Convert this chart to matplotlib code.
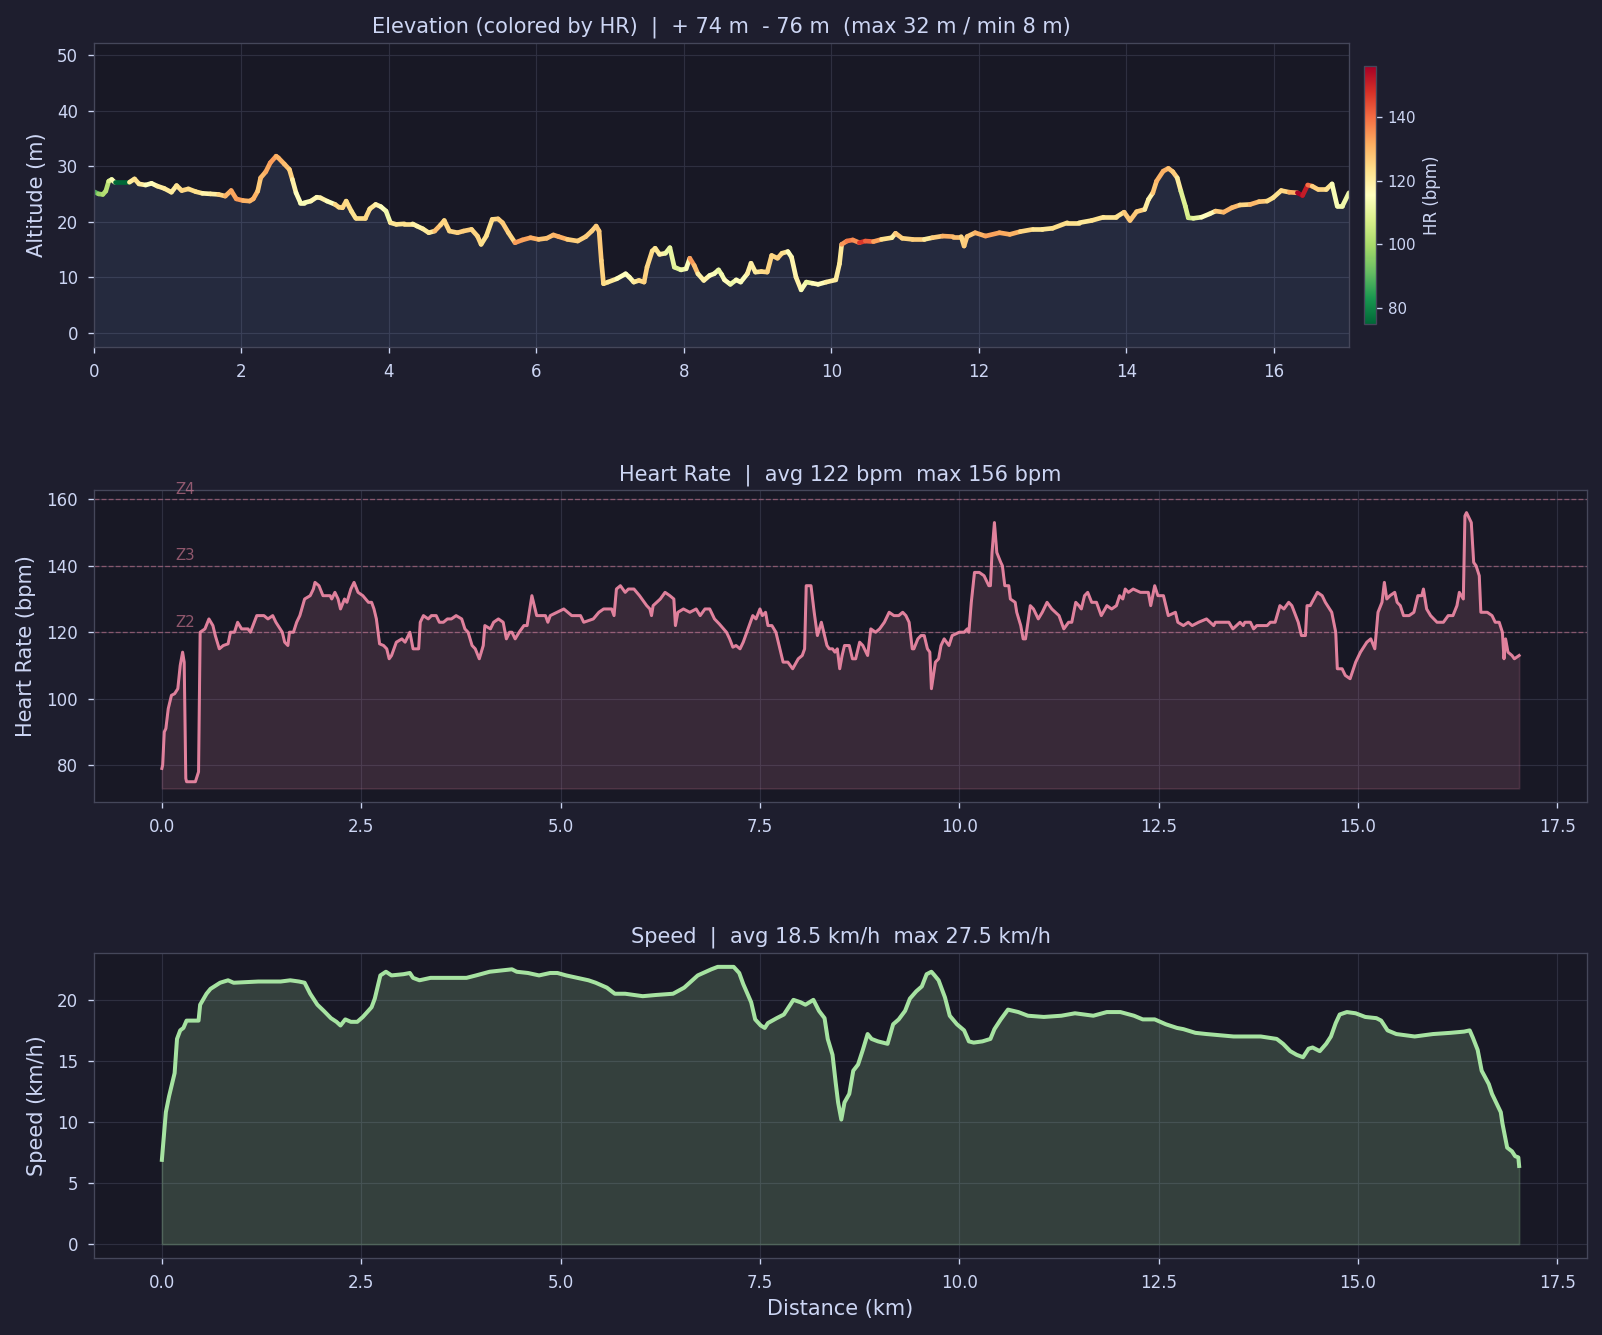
import numpy as np
import matplotlib
matplotlib.use("Agg")
import matplotlib.pyplot as plt
from matplotlib.collections import LineCollection

BG = '#1e1e2e'
PANEL = '#181825'
TXT = '#cdd6f4'
GRID = '#313244'
EDGE = '#45475a'
PINK = '#f38ba8'
GREEN = '#a6e3a1'
BLUE = '#89b4fa'

# elevation profile (km, m)
elev_km = [0.00, 0.06, 0.12, 0.16, 0.20, 0.24, 0.28, 0.48, 0.55, 0.61, 0.70, 0.78, 0.86, 0.95,
           1.05, 1.12, 1.19, 1.28, 1.38, 1.47, 1.58, 1.69, 1.78, 1.86, 1.93, 2.02, 2.11, 2.16,
           2.22, 2.26, 2.33, 2.39, 2.47, 2.50, 2.58, 2.65, 2.69, 2.74, 2.80, 2.85, 2.94, 3.02,
           3.07, 3.16, 3.27, 3.32, 3.37, 3.42, 3.49, 3.55, 3.68, 3.74, 3.82, 3.89, 3.96, 4.02,
           4.10, 4.21, 4.32, 4.38, 4.46, 4.54, 4.62, 4.70, 4.75, 4.82, 4.93, 5.01, 5.12, 5.20,
           5.25, 5.32, 5.40, 5.48, 5.54, 5.62, 5.71, 5.81, 5.92, 6.03, 6.14, 6.23, 6.30, 6.42,
           6.56, 6.67, 6.75, 6.81, 6.85, 6.88, 6.91, 6.97, 7.09, 7.21, 7.26, 7.32, 7.39, 7.46,
           7.50, 7.57, 7.61, 7.67, 7.75, 7.81, 7.87, 7.96, 8.03, 8.08, 8.14, 8.19, 8.27, 8.35,
           8.41, 8.47, 8.51, 8.55, 8.63, 8.71, 8.77, 8.86, 8.91, 8.97, 9.05, 9.13, 9.19, 9.27,
           9.33, 9.41, 9.46, 9.52, 9.59, 9.66, 9.74, 9.82, 9.93, 10.06, 10.11, 10.14, 10.21,
           10.29, 10.38, 10.46, 10.57, 10.68, 10.82, 10.87, 10.96, 11.10, 11.26, 11.37, 11.51,
           11.65, 11.76, 11.80, 11.84, 11.95, 12.09, 12.28, 12.42, 12.56, 12.73, 12.86, 13.00,
           13.20, 13.36, 13.53, 13.69, 13.86, 13.97, 14.05, 14.14, 14.25, 14.30, 14.36, 14.41,
           14.50, 14.57, 14.63, 14.69, 14.74, 14.80, 14.84, 14.91, 15.02, 15.13, 15.21, 15.32,
           15.43, 15.54, 15.68, 15.80, 15.91, 15.99, 16.10, 16.21, 16.32, 16.39, 16.46, 16.52,
           16.60, 16.71, 16.79, 16.86, 16.93, 17.02]
elev_m = [25.4, 25.0, 24.9, 25.5, 27.3, 27.6, 27.1, 27.1, 27.7, 26.8, 26.6, 26.9, 26.4, 26.0,
          25.3, 26.5, 25.6, 25.9, 25.4, 25.1, 25.0, 24.9, 24.6, 25.6, 24.1, 23.8, 23.7, 24.1,
          25.5, 27.9, 29.0, 30.6, 31.8, 31.5, 30.4, 29.4, 27.6, 25.2, 23.4, 23.4, 23.7, 24.4,
          24.3, 23.7, 23.1, 22.6, 22.5, 23.7, 21.9, 20.6, 20.6, 22.3, 23.1, 22.7, 21.9, 19.8,
          19.5, 19.6, 19.6, 19.2, 18.7, 18.0, 18.3, 19.4, 20.2, 18.3, 18.0, 18.3, 18.6, 17.4,
          15.9, 17.4, 20.4, 20.5, 19.8, 18.0, 16.2, 16.7, 17.1, 16.8, 17.0, 17.6, 17.3, 16.8,
          16.5, 17.3, 18.3, 19.2, 18.3, 13.0, 8.8, 9.1, 9.7, 10.6, 10.0, 9.1, 9.4, 9.1,
          11.8, 14.7, 15.2, 14.1, 14.3, 15.3, 11.8, 11.3, 11.5, 13.4, 12.1, 10.6, 9.4, 10.3,
          10.6, 11.3, 10.5, 9.5, 8.7, 9.5, 9.1, 10.6, 12.5, 10.9, 11.0, 10.9, 13.9, 13.4,
          14.3, 14.6, 13.6, 10.0, 7.7, 9.1, 8.9, 8.7, 9.1, 9.5, 12.4, 15.9, 16.5,
          16.7, 16.2, 16.5, 16.4, 16.8, 17.1, 17.9, 17.0, 16.8, 16.8, 17.1, 17.4,
          17.3, 17.3, 15.6, 17.3, 18.0, 17.4, 18.0, 17.7, 18.2, 18.6, 18.6, 18.8,
          19.8, 19.8, 20.2, 20.8, 20.8, 21.7, 20.2, 21.8, 22.2, 24.0, 25.2, 27.3,
          29.1, 29.6, 29.0, 27.9, 25.5, 22.8, 20.7, 20.6, 20.8, 21.4, 21.9, 21.7,
          22.5, 23.0, 23.1, 23.6, 23.7, 24.3, 25.6, 25.3, 25.2, 24.7, 26.6, 26.4,
          25.8, 25.8, 26.8, 22.8, 22.8, 25.2]

# heart rate (km, bpm)
hr_km = [0.00, 0.01, 0.03, 0.05, 0.08, 0.12, 0.16, 0.20, 0.23, 0.26, 0.28, 0.30, 0.31, 0.42,
         0.46, 0.48, 0.54, 0.59, 0.64, 0.67, 0.72, 0.77, 0.83, 0.86, 0.91, 0.95, 1.00, 1.08,
         1.11, 1.19, 1.28, 1.33, 1.39, 1.43, 1.51, 1.54, 1.58, 1.60, 1.65, 1.69, 1.73, 1.79,
         1.86, 1.90, 1.92, 1.97, 2.02, 2.11, 2.13, 2.17, 2.21, 2.24, 2.29, 2.32, 2.37, 2.41,
         2.46, 2.52, 2.59, 2.63, 2.66, 2.69, 2.73, 2.78, 2.82, 2.85, 2.88, 2.94, 3.01, 3.05,
         3.11, 3.15, 3.22, 3.24, 3.28, 3.34, 3.38, 3.44, 3.48, 3.53, 3.58, 3.63, 3.69, 3.76,
         3.80, 3.84, 3.89, 3.93, 3.98, 4.03, 4.05, 4.12, 4.16, 4.22, 4.28, 4.32, 4.36, 4.39,
         4.43, 4.48, 4.54, 4.58, 4.64, 4.70, 4.74, 4.81, 4.84, 4.87, 5.04, 5.14, 5.25, 5.29,
         5.41, 5.48, 5.54, 5.64, 5.67, 5.70, 5.75, 5.81, 5.85, 5.92, 5.99, 6.08, 6.12, 6.14,
         6.16, 6.25, 6.31, 6.37, 6.42, 6.44, 6.47, 6.54, 6.62, 6.70, 6.75, 6.81, 6.87, 6.93,
         6.99, 7.08, 7.12, 7.16, 7.20, 7.25, 7.29, 7.35, 7.41, 7.45, 7.50, 7.53, 7.57, 7.60,
         7.65, 7.70, 7.74, 7.79, 7.85, 7.91, 7.98, 8.03, 8.06, 8.08, 8.14, 8.18, 8.22, 8.27,
         8.30, 8.34, 8.37, 8.41, 8.44, 8.47, 8.50, 8.53, 8.56, 8.62, 8.66, 8.70, 8.75, 8.79,
         8.85, 8.89, 8.95, 9.00, 9.06, 9.12, 9.18, 9.24, 9.29, 9.33, 9.37, 9.41, 9.43, 9.48,
         9.52, 9.56, 9.60, 9.63, 9.65, 9.70, 9.74, 9.77, 9.81, 9.87, 9.91, 10.00, 10.06,
         10.10, 10.12, 10.15, 10.19, 10.25, 10.31, 10.37, 10.39, 10.41, 10.44, 10.47, 10.52,
         10.54, 10.57, 10.62, 10.64, 10.70, 10.72, 10.77, 10.80, 10.83, 10.89, 10.93, 10.99,
         11.04, 11.10, 11.16, 11.25, 11.31, 11.37, 11.41, 11.46, 11.50, 11.53, 11.57, 11.61,
         11.66, 11.72, 11.78, 11.85, 11.91, 11.97, 12.01, 12.05, 12.08, 12.12, 12.18, 12.27,
         12.37, 12.40, 12.45, 12.49, 12.56, 12.62, 12.71, 12.74, 12.81, 12.87, 12.92, 13.00,
         13.10, 13.19, 13.21, 13.38, 13.43, 13.52, 13.56, 13.58, 13.65, 13.69, 13.73, 13.86,
         13.90, 13.96, 14.02, 14.07, 14.13, 14.17, 14.25, 14.29, 14.34, 14.36, 14.40, 14.49,
         14.55, 14.59, 14.67, 14.72, 14.74, 14.80, 14.84, 14.90, 14.97, 15.03, 15.11, 15.16,
         15.21, 15.25, 15.30, 15.33, 15.36, 15.40, 15.46, 15.49, 15.53, 15.57, 15.64, 15.70,
         15.75, 15.80, 15.82, 15.86, 15.91, 15.99, 16.07, 16.13, 16.19, 16.24, 16.27, 16.32,
         16.34, 16.36, 16.42, 16.45, 16.48, 16.52, 16.54, 16.62, 16.68, 16.72, 16.77, 16.81,
         16.83, 16.85, 16.88, 16.93, 16.96, 17.02]
hr_bpm = [79, 80, 90, 91, 97, 101, 101.5, 103, 110, 114, 111, 76, 75, 75,
          78, 120, 121, 124, 122, 119, 115, 116, 116.5, 120, 120, 123, 121, 121,
          120, 125, 125, 124, 125, 123, 120, 117, 116, 120, 120, 123, 125, 130,
          131, 133, 135, 134, 131, 131, 130, 132, 130, 127, 130, 129, 133, 135,
          132, 131, 129, 129, 127, 124, 116.5, 116, 115, 112, 113, 117, 118, 117,
          120, 115, 115, 123, 125, 124, 125, 125, 123, 123, 124, 124, 125, 124,
          121, 120, 116, 115, 112, 116, 122, 121, 123, 124, 123, 118, 120, 120,
          118, 120, 122, 122, 131, 125, 125, 125, 123, 125, 127, 125, 125, 123,
          124, 126, 127, 127, 125, 133, 134, 132, 133, 133, 131, 128, 127, 125,
          128, 130, 132, 131, 130, 122, 126, 127, 126, 127, 125, 127, 127, 124,
          122.5, 120, 118, 115.5, 116, 115, 117, 121, 125, 124, 127, 125, 126, 122,
          122, 120, 116, 111, 111, 109, 112, 113, 115, 134, 134, 126, 119, 123,
          120, 116, 115, 115, 114, 115, 109, 113, 116, 116, 112, 112, 117, 116,
          113, 121, 120, 121, 123, 126, 125, 125, 126, 125, 123, 115, 115, 118,
          119, 119, 115, 114, 103, 111, 112, 116, 118, 116, 119, 120, 120,
          121, 120, 129, 138, 138, 137, 134, 134, 144, 153, 144, 141,
          140, 134, 134, 130, 129, 126, 122, 118, 118, 128, 127, 124,
          126, 129, 127, 125, 121, 123, 123, 129, 128, 127, 131, 132,
          129, 129, 125, 128, 127, 128, 131, 130, 133, 132, 133, 132,
          132, 128, 134, 131, 131, 125, 126, 123, 122, 123, 122, 123,
          124, 122, 123, 123, 121, 123, 122, 123, 123, 121, 122, 122,
          123, 123, 128, 127, 129, 128, 123, 119, 119, 128, 128, 132,
          131, 129, 126, 120, 109, 109, 107, 106, 111, 114, 117, 118,
          115, 126, 129, 135, 130, 131, 132, 129, 128, 125, 125, 126,
          131, 131, 133, 127, 125, 123, 123, 125, 125, 128, 132, 130,
          155, 156, 153, 141, 140, 137, 126, 126, 125, 123, 123, 120,
          112, 118, 114, 113, 112, 113]

# speed (km, km/h)
sp_km = [0.00, 0.01, 0.05, 0.09, 0.16, 0.19, 0.23, 0.27, 0.31, 0.46, 0.48, 0.56, 0.61, 0.73,
         0.83, 0.90, 1.21, 1.49, 1.61, 1.72, 1.79, 1.86, 1.95, 2.03, 2.12, 2.19, 2.24, 2.30,
         2.37, 2.45, 2.52, 2.63, 2.67, 2.74, 2.81, 2.88, 3.03, 3.11, 3.15, 3.23, 3.37, 3.82,
         3.94, 4.11, 4.39, 4.45, 4.59, 4.73, 4.87, 4.96, 5.07, 5.21, 5.35, 5.44, 5.58, 5.68,
         5.81, 6.03, 6.20, 6.41, 6.55, 6.72, 6.89, 6.97, 7.17, 7.24, 7.29, 7.39, 7.44, 7.51,
         7.56, 7.60, 7.71, 7.80, 7.86, 7.92, 8.01, 8.07, 8.17, 8.24, 8.31, 8.35, 8.41, 8.45,
         8.48, 8.52, 8.56, 8.62, 8.67, 8.73, 8.79, 8.85, 8.90, 8.98, 9.10, 9.17, 9.24, 9.32,
         9.38, 9.46, 9.53, 9.59, 9.65, 9.69, 9.74, 9.82, 9.88, 9.97, 10.06, 10.12, 10.18,
         10.29, 10.39, 10.44, 10.52, 10.61, 10.74, 10.86, 11.06, 11.28, 11.45, 11.68, 11.85,
         12.02, 12.19, 12.30, 12.45, 12.59, 12.73, 12.81, 12.96, 13.10, 13.27, 13.44, 13.61,
         13.78, 13.98, 14.06, 14.15, 14.23, 14.31, 14.38, 14.43, 14.52, 14.60, 14.66, 14.72,
         14.77, 14.86, 14.97, 15.09, 15.23, 15.29, 15.37, 15.48, 15.71, 15.94, 16.16, 16.33,
         16.40, 16.44, 16.50, 16.55, 16.64, 16.68, 16.79, 16.81, 16.87, 16.93, 16.97, 17.01,
         17.02]
sp_kmh = [6.9, 7.7, 10.8, 12.1, 14.0, 16.8, 17.5, 17.7, 18.3, 18.3, 19.6, 20.5, 20.9, 21.4,
          21.6, 21.4, 21.5, 21.5, 21.6, 21.5, 21.4, 20.5, 19.6, 19.1, 18.5, 18.2, 17.9, 18.4,
          18.2, 18.2, 18.6, 19.4, 20.1, 22.0, 22.3, 22.0, 22.1, 22.2, 21.8, 21.6, 21.8, 21.8,
          22.0, 22.3, 22.5, 22.3, 22.2, 22.0, 22.2, 22.2, 22.0, 21.8, 21.6, 21.4, 21.0, 20.5,
          20.5, 20.3, 20.4, 20.5, 21.0, 22.0, 22.5, 22.7, 22.7, 22.2, 21.3, 19.8, 18.4, 17.9,
          17.7, 18.1, 18.5, 18.8, 19.4, 20.0, 19.8, 19.6, 20.0, 19.1, 18.5, 16.8, 15.5, 13.2,
          11.6, 10.2, 11.6, 12.3, 14.2, 14.7, 15.9, 17.2, 16.8, 16.6, 16.4, 18.0, 18.4, 19.1,
          20.1, 20.7, 21.1, 22.1, 22.3, 22.0, 21.6, 20.2, 18.7, 18.0, 17.5, 16.6, 16.5,
          16.6, 16.8, 17.6, 18.4, 19.2, 19.0, 18.7, 18.6, 18.7, 18.9, 18.7, 19.0,
          19.0, 18.7, 18.4, 18.4, 18.0, 17.7, 17.6, 17.3, 17.2, 17.1, 17.0, 17.0,
          17.0, 16.8, 16.4, 15.8, 15.5, 15.3, 16.0, 16.1, 15.8, 16.4, 17.0, 18.1,
          18.8, 19.0, 18.9, 18.6, 18.5, 18.3, 17.5, 17.2, 17.0, 17.2, 17.3, 17.4,
          17.5, 16.9, 15.9, 14.2, 13.1, 12.3, 10.8, 9.9, 7.9, 7.6, 7.2, 7.1,
          6.4]

zones = [120, 140, 160]
zone_labels = ['Z2', 'Z3', 'Z4']
cbar_ticks = [80, 100, 120, 140]

elev_km = np.array(elev_km)
elev_m = np.array(elev_m)
hr_km = np.array(hr_km)
hr_bpm = np.array(hr_bpm)

W, H = 1602, 1335
fig = plt.figure(figsize=(W / 120, H / 120), dpi=120, facecolor=BG)


def box(l, t, r, b):
    return [l / W, 1 - b / H, (r - l) / W, (b - t) / H]


ax1 = fig.add_axes(box(94, 43, 1349, 347))
cax = fig.add_axes(box(1364, 66, 1376, 324))
ax2 = fig.add_axes(box(94, 490, 1587, 802))
ax3 = fig.add_axes(box(94, 953, 1587, 1258))

for ax in (ax1, ax2, ax3):
    ax.set_facecolor(PANEL)
    ax.grid(True, color=GRID, lw=0.7, alpha=0.9)
    ax.set_axisbelow(True)
    ax.tick_params(colors=TXT, labelsize=10, pad=6)
    for s in ax.spines.values():
        s.set_color(EDGE)
        s.set_linewidth(0.8)

# --- elevation coloured by HR
ylo = -2.6
ax1.fill_between(elev_km, elev_m, ylo, color=BLUE, alpha=0.12, lw=0)
pts = np.column_stack([elev_km, elev_m]).reshape(-1, 1, 2)
segs = np.concatenate([pts[:-1], pts[1:]], axis=1)
mid = (elev_km[:-1] + elev_km[1:]) / 2
norm = plt.Normalize(hr_bpm.min(), hr_bpm.max())
lc = LineCollection(segs, cmap='RdYlGn_r', norm=norm, linewidth=2.8, capstyle='round')
lc.set_array(np.interp(mid, hr_km, hr_bpm))
ax1.add_collection(lc)
ax1.set_xlim(0, elev_km.max())
ax1.set_ylim(ylo, 52.2)
ax1.set_ylabel('Altitude (m)', color=TXT, fontsize=12.5, labelpad=6)
ax1.set_title('Elevation (colored by HR)  |  + 74 m  - 76 m  (max 32 m / min 8 m)',
              color=TXT, fontsize=12.5)

cb = fig.colorbar(lc, cax=cax, ticks=cbar_ticks)
cb.set_label('HR (bpm)', color=TXT, fontsize=10)
cb.ax.tick_params(colors=TXT, labelsize=9)
cb.outline.set_edgecolor(EDGE)

# --- heart rate
ax2.fill_between(hr_km, hr_bpm, hr_bpm.min() - 2, color=PINK, alpha=0.15)
ax2.plot(hr_km, hr_bpm, color=PINK, lw=1.8, alpha=0.9)
for z, lab in zip(zones, zone_labels):
    ax2.axhline(z, color=PINK, ls='--', lw=0.8, alpha=0.45)
    ax2.text(0.17, z + 0.8, lab, color=PINK, alpha=0.55, fontsize=9, va='bottom')
ax2.set_ylim(68.9, 162.8)
ax2.set_yticks([80, 100, 120, 140, 160])
ax2.set_ylabel('Heart Rate (bpm)', color=TXT, fontsize=12.5, labelpad=6)
ax2.set_title('Heart Rate  |  avg 122 bpm  max 156 bpm', color=TXT, fontsize=12.5)

# --- speed
ax3.fill_between(sp_km, sp_kmh, 0, color=GREEN, alpha=0.2)
ax3.plot(sp_km, sp_kmh, color=GREEN, lw=2.4)
ax3.set_ylabel('Speed (km/h)', color=TXT, fontsize=12.5, labelpad=6)
ax3.set_xlabel('Distance (km)', color=TXT, fontsize=12.5)
ax3.set_title('Speed  |  avg 18.5 km/h  max 27.5 km/h', color=TXT, fontsize=12.5)

fig.savefig('out.png', dpi=120, facecolor=BG)
